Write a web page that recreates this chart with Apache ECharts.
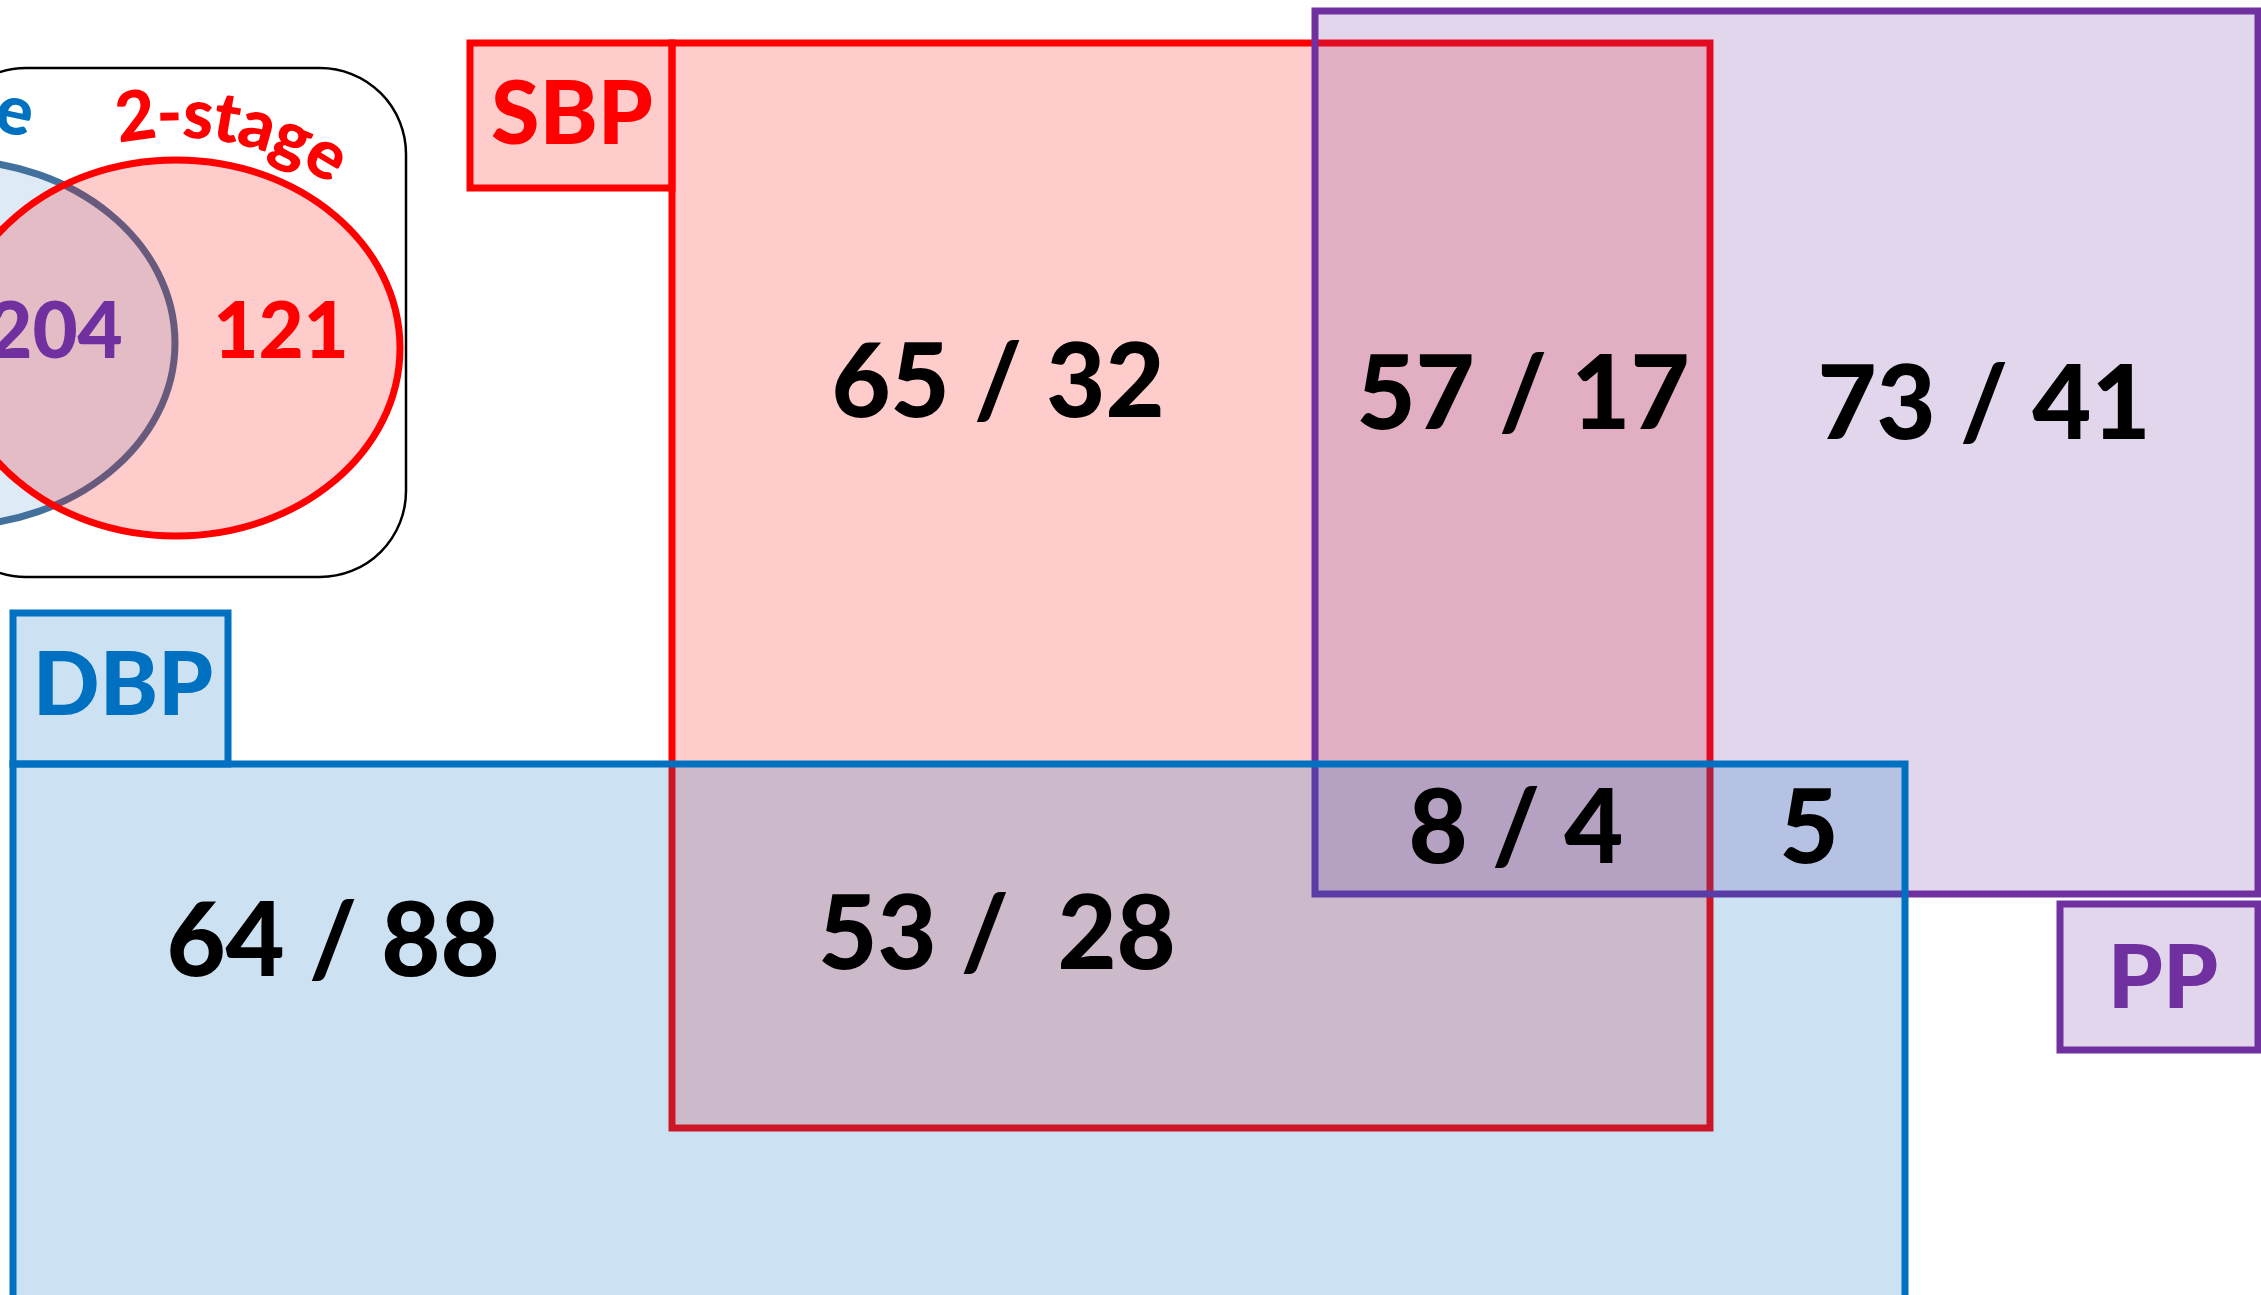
<!DOCTYPE html>
<html>
<head>
<meta charset="utf-8">
<script src="https://cdn.jsdelivr.net/npm/echarts@6/dist/echarts.min.js"></script>
<style>
  html, body { margin: 0; padding: 0; background: #fff; }
  #main { width: 2261px; height: 1295px; }
</style>
</head>
<body>
<div id="main"></div>
<script>
// --- data ---
var setNames = ['SBP', 'PP', 'DBP'];
var regionLabels = ['65 / 32', '57 / 17', '73 / 41', '64 / 88', '53 /  28', '8 / 4', '5'];
var legendNames = ['1-stage', '2-stage'];
var legendCounts = ['204', '121'];

// --- layout (pixels, drawn through a hidden 0..W / 0..H grid) ---
var W = 2261, H = 1295;
var setBox = { SBP: [672, 43, 1710, 1128], PP: [1315, 11, 2258, 894], DBP: [13, 764, 1905, 1330] };
var tagBox = { SBP: [470, 43, 672, 188], PP: [2060, 904, 2258, 1050], DBP: [13, 613, 228, 764] };
var tagText = { SBP: [572, 116], PP: [2163, 980], DBP: [123, 687] };
var setColor = { SBP: '#FF0000', PP: '#7030A0', DBP: '#0070C0' };
var setFill = { SBP: 'rgba(255,0,0,0.2)', PP: 'rgba(112,48,160,0.2)', DBP: 'rgba(0,112,192,0.2)' };
var regionPos = [[998, 384], [1523, 396], [1984, 406], [333, 943], [997, 936], [1516, 830], [1809, 830]];

var FONT = 'Lato';
var HEAVY = 900;
var NAME_SIZE = 69;
var measureCtx = document.createElement('canvas').getContext('2d');

function rectOf(api, b) {
    var p0 = api.coord([b[0], b[1]]);
    var p1 = api.coord([b[2], b[3]]);
    return { x: p0[0], y: p0[1], width: p1[0] - p0[0], height: p1[1] - p0[1] };
}

// walk along an ellipse by a signed arc length
function stepArc(phi, dist, a, b) {
    var dir = dist < 0 ? -1 : 1, left = Math.abs(dist), d = 0.0005;
    while (left > 0) {
        var ds = Math.sqrt(Math.pow(a * Math.cos(phi), 2) + Math.pow(b * Math.sin(phi), 2)) * d;
        if (ds >= left) { phi += dir * d * left / ds; break; }
        left -= ds;
        phi += dir * d;
    }
    return phi;
}

function textWidths(text, size) {
    measureCtx.font = HEAVY + ' ' + size + 'px ' + FONT;
    return text.split('').map(function (c) { return measureCtx.measureText(c).width * 0.95; });
}

// characters set along the top of an ellipse
function arcText(api, text, cx, cy, a, b, phiStart, size, color) {
    var ws = textWidths(text, size);
    var els = [];
    var phi = phiStart;
    ws.forEach(function (w, i) {
        var pc = stepArc(phi, w / 2, a, b);
        var p = api.coord([cx + a * Math.sin(pc), cy - b * Math.cos(pc)]);
        var ang = Math.atan2(b * Math.sin(pc), a * Math.cos(pc));
        els.push({
            type: 'text', x: p[0], y: p[1], rotation: -ang,
            style: {
                text: text[i], x: 0, y: -0.33 * size, align: 'center', verticalAlign: 'middle',
                fill: color, fontSize: size, fontWeight: HEAVY, fontFamily: FONT
            }
        });
        phi = stepArc(phi, w, a, b);
    });
    return els;
}

var myChart = echarts.init(document.getElementById('main'));

var option = {
    animation: false,
    grid: { left: 0, right: 0, top: 0, bottom: 0 },
    xAxis: { type: 'value', min: 0, max: W, show: false },
    yAxis: { type: 'value', min: 0, max: H, inverse: true, show: false },
    series: [
        {
            // legend: 1-stage / 2-stage
            type: 'custom',
            z: 1,
            data: [0],
            renderItem: function (params, api) {
                var box = rectOf(api, [-60, 68, 406, 577]);
                var blueC = api.coord([-49, 343]);
                var redC = api.coord([176, 348]);
                var children = [
                    { type: 'rect', shape: { x: box.x, y: box.y, width: box.width, height: box.height, r: 86 },
                      style: { fill: '#fff', stroke: '#000', lineWidth: 2.5 } },
                    { type: 'ellipse', shape: { cx: blueC[0], cy: blueC[1], rx: 224, ry: 183 },
                      style: { fill: 'rgba(91,155,213,0.2)', stroke: '#41719C', lineWidth: 7 } },
                    { type: 'ellipse', shape: { cx: redC[0], cy: redC[1], rx: 224, ry: 188 },
                      style: { fill: 'rgba(255,0,0,0.2)', stroke: '#FF0000', lineWidth: 7 } }
                ];
                var c204 = api.coord([55, 333]);
                var c121 = api.coord([281, 333]);
                children.push({ type: 'text', x: c204[0], y: c204[1],
                    style: { text: legendCounts[0], align: 'center', verticalAlign: 'middle', fill: '#7030A0',
                             fontSize: 78, fontWeight: HEAVY, fontFamily: FONT } });
                children.push({ type: 'text', x: c121[0], y: c121[1],
                    style: { text: legendCounts[1], align: 'center', verticalAlign: 'middle', fill: '#FF0000',
                             fontSize: 78, fontWeight: HEAVY, fontFamily: FONT } });
                // red name, starting above the left part of the red ellipse
                var redPhi = Math.asin((120 - 176) / 244);
                children = children.concat(arcText(api, legendNames[1], 176, 348, 244, 210, redPhi, NAME_SIZE, '#FF0000'));
                // blue name, ending near x = 27
                var bw = textWidths(legendNames[0], NAME_SIZE).reduce(function (s, v) { return s + v; }, 0);
                var endPhi = Math.asin((27 + 49) / 246);
                var bluePhi = stepArc(endPhi, -bw, 246, 215);
                children = children.concat(arcText(api, legendNames[0], -49, 343, 246, 215, bluePhi, NAME_SIZE, '#0070C0'));
                return { type: 'group', children: children };
            }
        },
        {
            // the three sets as boxes, drawn SBP, PP, DBP
            type: 'custom',
            z: 2,
            data: setNames.map(function (n, i) { return i; }),
            renderItem: function (params, api) {
                var name = setNames[params.dataIndex];
                var main = rectOf(api, setBox[name]);
                var tag = rectOf(api, tagBox[name]);
                var tp = api.coord(tagText[name]);
                return {
                    type: 'group',
                    children: [
                        { type: 'rect', shape: main, style: { fill: setFill[name], stroke: setColor[name], lineWidth: 7 } },
                        { type: 'rect', shape: tag, style: { fill: setFill[name], stroke: setColor[name], lineWidth: 7 } },
                        { type: 'text', x: tp[0], y: tp[1],
                          style: { text: name, align: 'center', verticalAlign: 'middle', fill: setColor[name],
                                   fontSize: 88, fontWeight: HEAVY, fontFamily: FONT } }
                    ]
                };
            }
        },
        {
            // counts in each region
            type: 'custom',
            z: 3,
            data: regionLabels.map(function (n, i) { return i; }),
            renderItem: function (params, api) {
                var p = api.coord(regionPos[params.dataIndex]);
                return {
                    type: 'text', x: p[0], y: p[1],
                    style: { text: regionLabels[params.dataIndex], align: 'center', verticalAlign: 'middle',
                             fill: '#000', fontSize: 102, fontWeight: HEAVY, fontFamily: FONT }
                };
            }
        }
    ]
};

myChart.setOption(option);
window.addEventListener('resize', function () {
    myChart.resize();
});
</script>
</body>
</html>
